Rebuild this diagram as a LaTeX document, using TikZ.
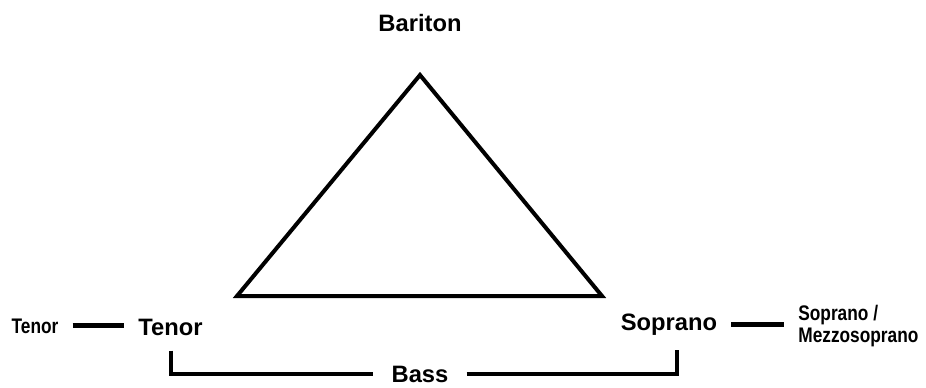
\documentclass[tikz,border=0pt]{standalone}
\usepackage{fontspec}
\setmainfont{Liberation Sans}
\newfontfamily\narrowsans{Liberation Sans}[FakeStretch=0.82]
\usetikzlibrary{positioning}
\tikzset{
  voice/.style={font=\fontsize{13.5}{15}\selectfont\bfseries, inner sep=0pt, anchor=base},
  voiceSmall/.style={font=\narrowsans\fontsize{12}{13}\selectfont\bfseries, inner sep=0pt, align=left},
  edge/.style={line width=0.08cm, line join=miter},
  link/.style={line width=0.1cm, shorten <=0.28cm, shorten >=0.28cm},
  bracket/.style={line width=0.08cm},
}

\begin{document}
\begin{tikzpicture}[x=0.02cm, y=-0.02cm]
\useasboundingbox (0,0) rectangle (926,387);
% triangle
\coordinate (apex) at (420,75);
\coordinate (lowL) at (237,296);
\coordinate (lowR) at (602,296);
\draw[edge] (apex) -- (lowL) -- (lowR) -- cycle;
% voices
\node[voice] (bariton) at (420,31) {Bariton};
\node[voice] (tenor) at (170.5,335) {Tenor};
\node[voice] (soprano) at (669,330) {Soprano};
\node[voice, inner xsep=0.36cm] (bass) at (420,382) {Bass};
\node[voiceSmall, anchor=base] (tenorSm) at (35,333) {Tenor};
\node[voiceSmall, anchor=west] (sopranoSm) at (798,326) {Soprano /\\Mezzosoprano};
% connectors
\draw[link] (tenorSm.east) -- (tenorSm.east -| tenor.west);
\draw[link] (soprano.east) -- (soprano.east -| sopranoSm.west);
\draw[bracket] ([yshift=-0.3cm]tenor.south) |- (bass.west);
\draw[bracket] (bass.east) -| ([xshift=0.16cm, yshift=-0.3cm]soprano.south);
\end{tikzpicture}
\end{document}
